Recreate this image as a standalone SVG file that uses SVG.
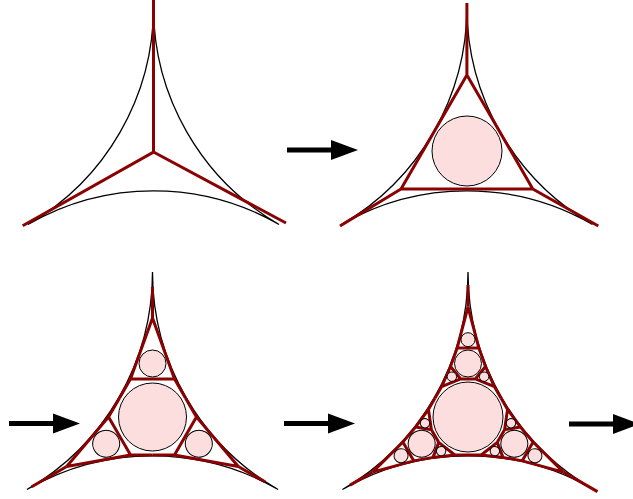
<svg xmlns="http://www.w3.org/2000/svg" xmlns:xlink="http://www.w3.org/1999/xlink" width="633" height="499" viewBox="0 0 633 499">
<style>
.arc{fill:none;stroke:#000;stroke-width:1.3}
.red{fill:none;stroke:#8b0000;stroke-width:3;stroke-linejoin:miter;stroke-linecap:butt}
.disk{fill:#fddede;stroke:#000;stroke-width:1}
.ah{fill:#000}
.al{stroke:#000;stroke-width:5}
</style>
<defs>
<path id="curv" class="arc" d="M0,-145 A251.15,251.15 0 0 1 -125.57,72.5 A251.15,251.15 0 0 1 125.57,72.5 A251.15,251.15 0 0 1 0,-145 Z"/>
<g id="g3">
<path class="red" d="M0,-99.09 L-21.97,-38.05 L-32.95,-19.02 M0,-99.09 L21.97,-38.05 L32.95,-19.02 M-21.97,-38.05 L21.97,-38.05"/>
</g>
<g id="c3">
<circle class="disk" cx="0" cy="-53.49" r="13.5"/>
</g>
<g id="g4">
<path class="red" d="M0,-110.19 L-10.85,-68.93 L-17.49,-50.49 L-26.36,-30.44 L-32.95,-19.02 M-10.85,-68.93 L10.85,-68.93 M-17.49,-50.49 L-7.32,-38.05 L-26.36,-30.44 M-7.32,-38.05 L7.32,-38.05 M0,-110.19 L10.85,-68.93 L17.49,-50.49 L26.36,-30.44 L32.95,-19.02 M17.49,-50.49 L7.32,-38.05 L26.36,-30.44"/>
</g>
<g id="c4">
<circle class="disk" cx="0" cy="-53.49" r="13.5"/>
<circle class="disk" cx="0" cy="-77.3" r="7"/>
<circle class="disk" cx="-16.12" cy="-40.32" r="4.7"/>
<circle class="disk" cx="16.12" cy="-40.32" r="4.7"/>
</g>
<g id="arrow">
<line class="al" x1="0" y1="0" x2="50" y2="0"/>
<polygon class="ah" points="44,-10 71,0 44,10"/>
</g>
</defs>

<g id="panel1">
<use href="#curv" transform="translate(153.5,152)"/>
<path class="red" d="M153.5,0 L153.5,152 L22.7,225.7 M153.5,152 L286,223"/>
</g>

<g id="panel2">
<use href="#curv" transform="translate(466.9,152)"/>
<path class="red" d="M466.9,3 L466.9,74.9 M466.9,74.9 L401,189.05 L532.8,189.05 Z M401,189.05 L340,226 M532.8,189.05 L598.3,226"/>
<circle class="disk" cx="467" cy="151" r="35"/>
</g>

<g id="panel3">
<use href="#curv" transform="translate(152.5,417)"/>
<use href="#g3" transform="translate(152.5,417)"/>
<use href="#g3" transform="translate(152.5,417) rotate(120)"/>
<use href="#g3" transform="translate(152.5,417) rotate(240)"/>
<path class="red" d="M152.5,287 L152.5,317.91 M66.69,466.55 L31.7,486.8 M238.31,466.55 L265,481.8"/>
<circle class="disk" cx="152.5" cy="417" r="34"/>
<use href="#c3" transform="translate(152.5,417)"/>
<use href="#c3" transform="translate(152.5,417) rotate(120)"/>
<use href="#c3" transform="translate(152.5,417) rotate(240)"/>
</g>

<g id="panel4">
<use href="#curv" transform="translate(468,417)"/>
<use href="#g4" transform="translate(468,417)"/>
<use href="#g4" transform="translate(468,417) rotate(120)"/>
<use href="#g4" transform="translate(468,417) rotate(240)"/>
<path class="red" d="M468,285 L468,306.81 M372.57,472.1 L350,485.1 M563.43,472.1 L597.5,491.6"/>
<circle class="disk" cx="468" cy="417" r="35"/>
<use href="#c4" transform="translate(468,417)"/>
<use href="#c4" transform="translate(468,417) rotate(120)"/>
<use href="#c4" transform="translate(468,417) rotate(240)"/>
</g>

<g id="arrows">
<use href="#arrow" transform="translate(287,150)"/>
<use href="#arrow" transform="translate(9,423.5)"/>
<use href="#arrow" transform="translate(284,423.5)"/>
<use href="#arrow" transform="translate(569,424)"/>
</g>
</svg>
